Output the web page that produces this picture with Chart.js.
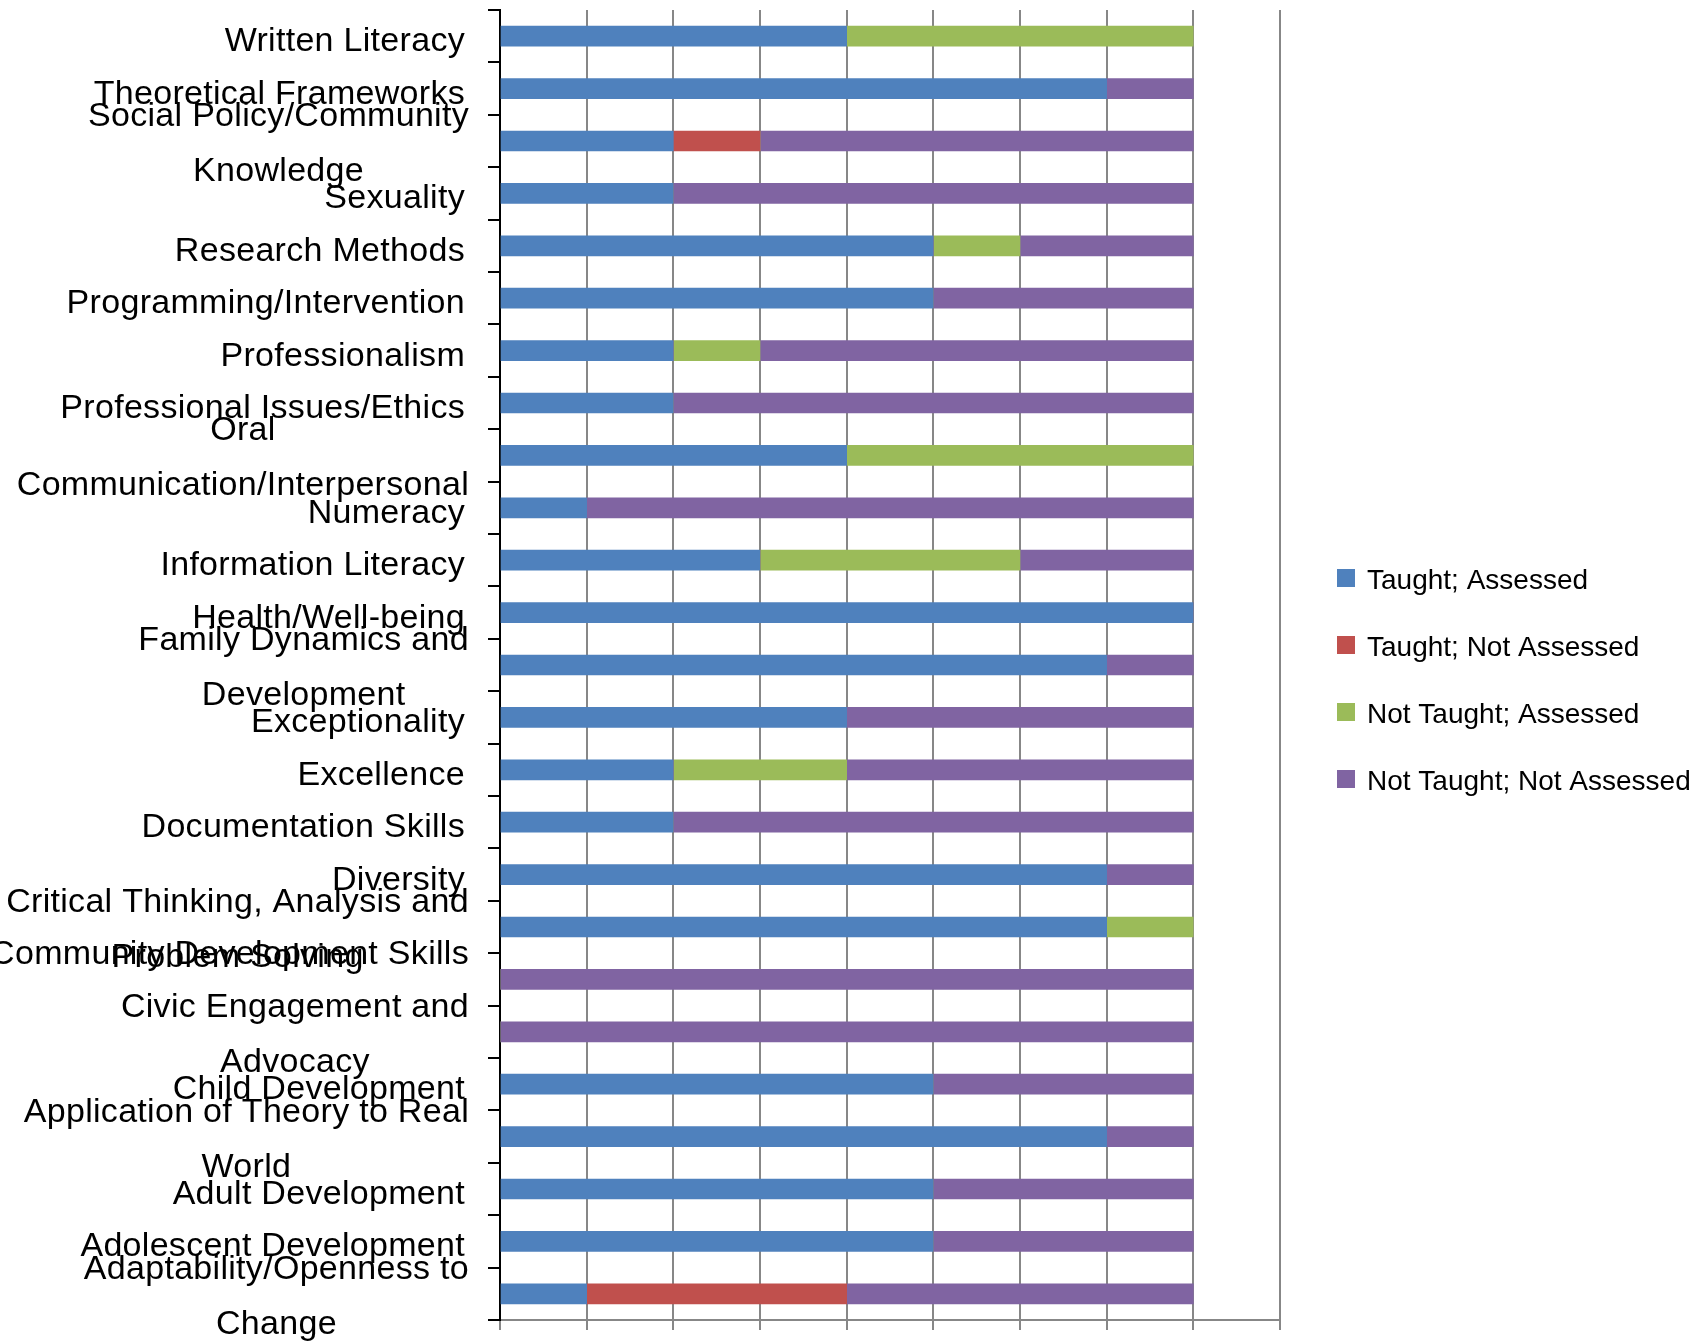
<!DOCTYPE html>
<html>
<head>
<meta charset="utf-8">
<script src="https://cdn.jsdelivr.net/npm/chart.js@4.4.0/dist/chart.umd.min.js"></script>
<style>
  html, body { margin: 0; padding: 0; background: #fff; }
  #wrap { width: 1704px; height: 1343px; }
</style>
</head>
<body>
<div id="wrap"><canvas id="chartSkills" width="1704" height="1343"></canvas></div>
<script>
// categorias (linhas quebradas como no original)
const categories = [
  ['Written Literacy'],
  ['Theoretical Frameworks'],
  ['Social Policy/Community', 'Knowledge'],
  ['Sexuality'],
  ['Research Methods'],
  ['Programming/Intervention'],
  ['Professionalism'],
  ['Professional Issues/Ethics'],
  ['Oral', 'Communication/Interpersonal'],
  ['Numeracy'],
  ['Information Literacy'],
  ['Health/Well-being'],
  ['Family Dynamics and', 'Development'],
  ['Exceptionality'],
  ['Excellence'],
  ['Documentation Skills'],
  ['Diversity'],
  ['Critical Thinking, Analysis and', 'Problem Solving'],
  ['Community Development Skills', ''],
  ['Civic Engagement and', 'Advocacy'],
  ['Child Development'],
  ['Application of Theory to Real', 'World'],
  ['Adult Development'],
  ['Adolescent Development'],
  ['Adaptability/Openness to', 'Change']
];

const seriesNames = ['Taught; Assessed', 'Taught; Not Assessed', 'Not Taught; Assessed', 'Not Taught; Not Assessed'];
const taughtAssessed       = [4, 7, 2, 2, 5, 5, 2, 2, 4, 1, 3, 8, 7, 4, 2, 2, 7, 7, 0, 0, 5, 7, 5, 5, 1];
const taughtNotAssessed    = [0, 0, 1, 0, 0, 0, 0, 0, 0, 0, 0, 0, 0, 0, 0, 0, 0, 0, 0, 0, 0, 0, 0, 0, 3];
const notTaughtAssessed    = [4, 0, 0, 0, 1, 0, 1, 0, 4, 0, 3, 0, 0, 0, 2, 0, 0, 1, 0, 0, 0, 0, 0, 0, 0];
const notTaughtNotAssessed = [0, 1, 5, 6, 2, 3, 5, 6, 0, 7, 2, 0, 1, 4, 4, 6, 1, 0, 8, 8, 3, 1, 3, 3, 4];

const xMin = 0;
const xMax = 9;
const xStep = 1;

const cores = ['#4F81BD', '#C0504D', '#9BBB59', '#8064A2'];
const FONT = '"Liberation Sans", Arial, sans-serif';

// rótulos do eixo y: linha única alinhada à direita, várias linhas centradas entre si
const yLabelPlugin = {
    id: 'yLabels',
    afterDraw(chart) {
        const ctx = chart.ctx;
        const yScale = chart.scales.y;
        const right = chart.chartArea.left - 35;
        ctx.save();
        ctx.font = '34px ' + FONT;
        ctx.letterSpacing = '0.3px';
        ctx.fillStyle = '#000';
        ctx.textBaseline = 'alphabetic';
        categories.forEach((lines, i) => {
            const cy = yScale.getPixelForValue(i);
            if (lines.length === 1) {
                ctx.textAlign = 'right';
                ctx.fillText(lines[0], right, cy + 15);
            } else {
                const w = Math.max(...lines.map(l => ctx.measureText(l).width));
                const cx = right + 4 - w / 2;
                ctx.textAlign = 'center';
                lines.forEach((l, k) => ctx.fillText(l, cx, cy - 15 + k * 55));
            }
        });
        ctx.restore();
    }
};

// legenda à direita
const legendPlugin = {
    id: 'sideLegend',
    afterDraw(chart) {
        const ctx = chart.ctx;
        const x0 = chart.chartArea.right + 57;
        const y0 = 578;
        const gap = 67;
        ctx.save();
        ctx.font = '28px ' + FONT;
        ctx.textAlign = 'left';
        ctx.textBaseline = 'alphabetic';
        chart.data.datasets.forEach((ds, i) => {
            const cy = y0 + i * gap;
            ctx.fillStyle = ds.backgroundColor;
            ctx.fillRect(x0, cy - 9, 18, 18);
            ctx.fillStyle = '#000';
            ctx.fillText(ds.label, x0 + 30, cy + 11);
        });
        ctx.restore();
    }
};

const series = [taughtAssessed, taughtNotAssessed, notTaughtAssessed, notTaughtNotAssessed];

const ctx = document.getElementById('chartSkills');
if (ctx) {
    new Chart(ctx.getContext('2d'), {
        type: 'bar',
        data: {
            labels: categories,
            datasets: series.map((valores, i) => ({
                label: seriesNames[i],
                data: valores,
                backgroundColor: cores[i],
                borderWidth: 0,
                barThickness: 20
            }))
        },
        options: {
            indexAxis: 'y',
            responsive: false,
            animation: false,
            layout: {
                padding: { top: 10, right: 424, bottom: 13, left: 0 }
            },
            plugins: {
                legend: { display: false },
                tooltip: { enabled: false }
            },
            scales: {
                x: {
                    stacked: true,
                    min: xMin,
                    max: xMax,
                    ticks: { stepSize: xStep, display: false },
                    grid: { color: '#878787', lineWidth: 2, tickLength: 10 },
                    border: { color: '#878787', width: 2 }
                },
                y: {
                    stacked: true,
                    ticks: { display: false },
                    grid: { drawOnChartArea: false, offset: true, color: '#000', lineWidth: 2, tickLength: 12 },
                    border: { color: '#000', width: 2 },
                    afterFit(scale) {
                        scale.width = 500;
                    }
                }
            }
        },
        plugins: [yLabelPlugin, legendPlugin]
    });
} else {
    console.error('Elemento chartSkills não encontrado');
}
</script>
</body>
</html>
